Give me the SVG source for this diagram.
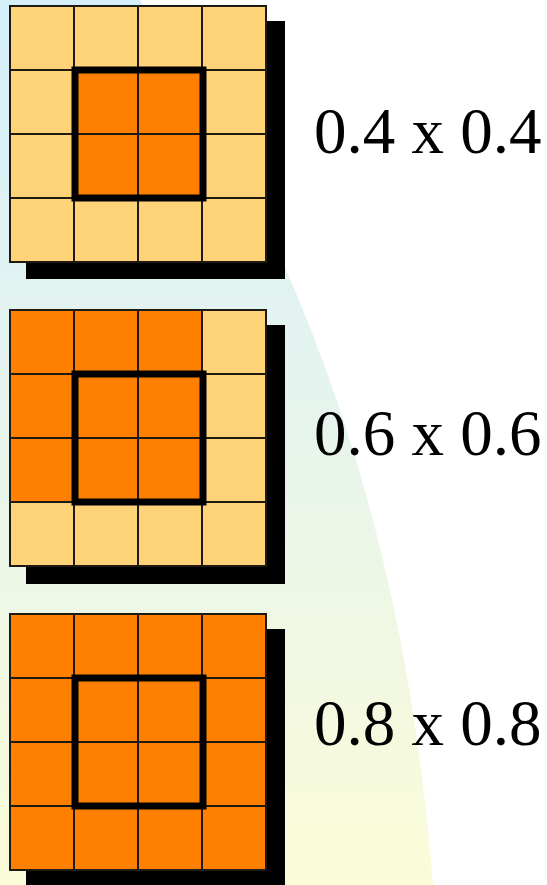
<svg xmlns="http://www.w3.org/2000/svg" width="547" height="885" viewBox="0 0 547 885">
<defs>
<linearGradient id="bg" x1="0" y1="0" x2="0" y2="1">
<stop offset="0" stop-color="#D4EFFA"/>
<stop offset="0.45" stop-color="#E6F4EE"/>
<stop offset="1" stop-color="#FBFCD8"/>
</linearGradient>
</defs>
<style>
.sh{fill:#000}
.lt{fill:#FFD479;stroke:#1e1a14;stroke-width:2}
.or{fill:#FF8000;stroke:#1e1a14;stroke-width:2}
.thick{fill:none;stroke:#000;stroke-width:7}
.lbl{font-family:"Liberation Serif","Times New Roman",serif;font-size:65px;fill:#000}
</style>
<rect width="547" height="885" fill="#fff"/>
<path d="M0,0 L140,0 C335,300 409,585 433,885 L0,885 Z" fill="url(#bg)"/>
<g id="grid1">
<rect class="sh" x="26" y="21" width="259" height="258"/>
<rect class="lt" x="10" y="6" width="64" height="64"/><rect class="lt" x="74" y="6" width="64" height="64"/><rect class="lt" x="138" y="6" width="64" height="64"/><rect class="lt" x="202" y="6" width="64" height="64"/>
<rect class="lt" x="10" y="70" width="64" height="64"/><rect class="or" x="74" y="70" width="64" height="64"/><rect class="or" x="138" y="70" width="64" height="64"/><rect class="lt" x="202" y="70" width="64" height="64"/>
<rect class="lt" x="10" y="134" width="64" height="64"/><rect class="or" x="74" y="134" width="64" height="64"/><rect class="or" x="138" y="134" width="64" height="64"/><rect class="lt" x="202" y="134" width="64" height="64"/>
<rect class="lt" x="10" y="198" width="64" height="64"/><rect class="lt" x="74" y="198" width="64" height="64"/><rect class="lt" x="138" y="198" width="64" height="64"/><rect class="lt" x="202" y="198" width="64" height="64"/>
<rect class="thick" x="75" y="70" width="128" height="128"/>
<text class="lbl" x="314" y="153">0.4 x 0.4</text>
</g>
<g id="grid2">
<rect class="sh" x="26" y="325" width="259" height="259"/>
<rect class="or" x="10" y="310" width="64" height="64"/><rect class="or" x="74" y="310" width="64" height="64"/><rect class="or" x="138" y="310" width="64" height="64"/><rect class="lt" x="202" y="310" width="64" height="64"/>
<rect class="or" x="10" y="374" width="64" height="64"/><rect class="or" x="74" y="374" width="64" height="64"/><rect class="or" x="138" y="374" width="64" height="64"/><rect class="lt" x="202" y="374" width="64" height="64"/>
<rect class="or" x="10" y="438" width="64" height="64"/><rect class="or" x="74" y="438" width="64" height="64"/><rect class="or" x="138" y="438" width="64" height="64"/><rect class="lt" x="202" y="438" width="64" height="64"/>
<rect class="lt" x="10" y="502" width="64" height="64"/><rect class="lt" x="74" y="502" width="64" height="64"/><rect class="lt" x="138" y="502" width="64" height="64"/><rect class="lt" x="202" y="502" width="64" height="64"/>
<rect class="thick" x="75" y="374" width="128" height="128"/>
<text class="lbl" x="314" y="455">0.6 x 0.6</text>
</g>
<g id="grid3">
<rect class="sh" x="26" y="629" width="259" height="256"/>
<rect class="or" x="10" y="614" width="64" height="64"/><rect class="or" x="74" y="614" width="64" height="64"/><rect class="or" x="138" y="614" width="64" height="64"/><rect class="or" x="202" y="614" width="64" height="64"/>
<rect class="or" x="10" y="678" width="64" height="64"/><rect class="or" x="74" y="678" width="64" height="64"/><rect class="or" x="138" y="678" width="64" height="64"/><rect class="or" x="202" y="678" width="64" height="64"/>
<rect class="or" x="10" y="742" width="64" height="64"/><rect class="or" x="74" y="742" width="64" height="64"/><rect class="or" x="138" y="742" width="64" height="64"/><rect class="or" x="202" y="742" width="64" height="64"/>
<rect class="or" x="10" y="806" width="64" height="64"/><rect class="or" x="74" y="806" width="64" height="64"/><rect class="or" x="138" y="806" width="64" height="64"/><rect class="or" x="202" y="806" width="64" height="64"/>
<rect class="thick" x="75" y="678" width="128" height="128"/>
<text class="lbl" x="314" y="745">0.8 x 0.8</text>
</g>
<g id="connectors"/>
</svg>
